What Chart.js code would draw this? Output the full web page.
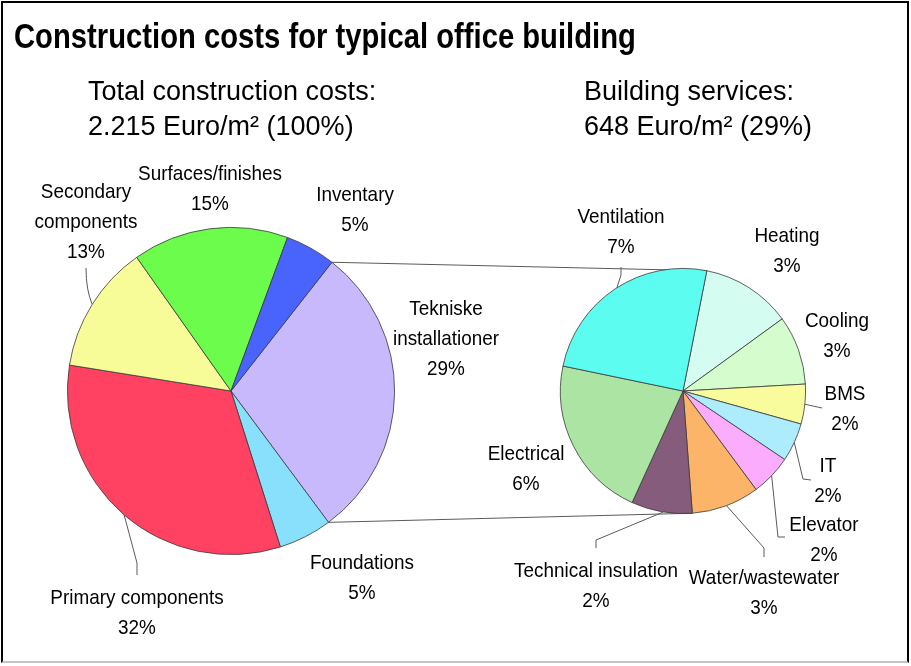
<!DOCTYPE html>
<html>
<head>
<meta charset="utf-8">
<script src="https://cdn.jsdelivr.net/npm/chart.js@4.4.1/dist/chart.umd.min.js"></script>
<style>
  html, body { margin: 0; padding: 0; background: #fff; }
  #wrap { position: relative; width: 911px; height: 666px; overflow: hidden; }
  #frame { position: absolute; left: 1px; top: 1px; width: 904px; height: 658px;
           border: 2px solid #000; border-bottom-color: #c4c4c4; }
  canvas { position: absolute; left: 0; top: 0; }
</style>
</head>
<body>
<div id="wrap">
  <div id="frame"></div>
  <canvas id="totalChart" width="911" height="666"></canvas>
  <canvas id="servicesChart" width="911" height="666"></canvas>
</div>
<script>
// Total construction costs, Euro/m2 (2.215 in total)
const totalLabels = ['Tekniske installationer', 'Foundations', 'Primary components', 'Secondary components', 'Surfaces/finishes', 'Inventary'];
const totalValues = [648, 117, 718, 281, 341, 110];
const totalPct = ['29%', '5%', '32%', '13%', '15%', '5%'];

// Building services, Euro/m2 (648 in total)
const servicesLabels = ['Heating', 'Cooling', 'BMS', 'IT', 'Elevator', 'Water/wastewater', 'Technical insulation', 'Electrical', 'Ventilation'];
const servicesValues = [77, 59, 34, 33, 35, 58, 52, 139, 161];
const servicesPct = ['3%', '3%', '2%', '2%', '2%', '3%', '2%', '6%', '7%'];

const totalColors = ['#c8b9fc', '#88e0fc', '#ff4262', '#f8fc98', '#6cfc4c', '#4864fc'];
const servicesColors = ['#d4fcf0', '#d4fccc', '#f8fc9c', '#acecfc', '#fcacfc', '#fcb468', '#865c7c', '#ace4a4', '#5cfcf0'];

const FONT = '"Liberation Sans", Arial, Helvetica, sans-serif';
const LINE = '#5a5a5a';

// label placement: [centerX, centerY of first line, lines]
const totalLabelPos = [
  [446, 307, ['Tekniske', 'installationer']],
  [362, 561, null],
  [137, 596, null],
  [86, 190, ['Secondary', 'components']],
  [210, 172, null],
  [355, 193, null]
];
const servicesLabelPos = [
  [787, 234], [837, 319], [845, 392], [828, 464], [824, 523],
  [764, 576], [596, 569], [526, 452], [621, 215]
];

// leader lines: slice index, position inside slice (0..1), further points
const totalLeaders = [
  { i: 3, t: 0.5, curve: [86, 290], pts: [[86, 268]] },
  { i: 2, t: 0.5, pts: [[137, 563], [137, 575]] }
];
const servicesLeaders = [
  { i: 8, t: 0.51, pts: [[621, 275], [621, 267]] },
  { i: 2, t: 0.5, pts: [[822, 408]] },
  { i: 3, t: 0.5, pts: [[803, 479], [811, 480]] },
  { i: 4, t: 0.5, pts: [[778, 537], [785, 537]] },
  { i: 5, t: 0.49, pts: [[764, 548], [764, 557]] },
  { i: 6, t: 0.47, pts: [[596, 540], [596, 548]] }
];

function drawText(ctx, str, x, y, size, scaleX, align, bold) {
  ctx.save();
  ctx.font = (bold ? 'bold ' : '') + size + 'px ' + FONT;
  ctx.fillStyle = '#000';
  ctx.textAlign = align;
  ctx.textBaseline = 'alphabetic';
  ctx.translate(x, y);
  ctx.scale(scaleX, 1);
  ctx.fillText(str, 0, 0);
  ctx.restore();
}

function edgePoint(chart, i, t) {
  const arc = chart.getDatasetMeta(0).data[i];
  const a = arc.startAngle + t * (arc.endAngle - arc.startAngle);
  return [arc.x + arc.outerRadius * Math.cos(a), arc.y + arc.outerRadius * Math.sin(a)];
}

function drawLeaders(chart, leaders) {
  const ctx = chart.ctx;
  ctx.save();
  ctx.strokeStyle = LINE;
  ctx.lineWidth = 1;
  leaders.forEach(l => {
    const p = edgePoint(chart, l.i, l.t);
    ctx.beginPath();
    ctx.moveTo(p[0], p[1]);
    l.pts.forEach((q, k) => {
      if (k === 0 && l.curve) ctx.quadraticCurveTo(l.curve[0], l.curve[1], q[0], q[1]);
      else ctx.lineTo(q[0], q[1]);
    });
    ctx.stroke();
  });
  ctx.restore();
}

function drawLabels(chart, labels, pct, pos) {
  const ctx = chart.ctx;
  pos.forEach((p, i) => {
    const lines = (p[2] || [labels[i]]).concat([pct[i]]);
    lines.forEach((s, k) => drawText(ctx, s, p[0], p[1] + 7.5 + k * 30, 21, 0.9, 'center', false));
  });
}

function pieOptions(rotation, padding) {
  return {
    responsive: false,
    devicePixelRatio: 1,
    animation: false,
    events: [],
    rotation: rotation,
    layout: { padding: padding },
    plugins: { legend: { display: false }, tooltip: { enabled: false }, title: { display: false } }
  };
}

const servicesChart = new Chart(document.getElementById('servicesChart'), {
  type: 'pie',
  data: {
    labels: servicesLabels,
    datasets: [{ data: servicesValues, backgroundColor: servicesColors, borderColor: '#3a3a3a', borderWidth: 0.8 }]
  },
  options: pieOptions(11.2, { left: 560, right: 105, top: 268, bottom: 152 }),
  plugins: [{
    id: 'servicesText',
    afterDraw(chart) {
      drawLeaders(chart, servicesLeaders);
      drawLabels(chart, servicesLabels, servicesPct, servicesLabelPos);
    }
  }]
});

const totalChart = new Chart(document.getElementById('totalChart'), {
  type: 'pie',
  data: {
    labels: totalLabels,
    datasets: [{ data: totalValues, backgroundColor: totalColors, borderColor: '#3a3a3a', borderWidth: 0.8 }]
  },
  options: pieOptions(38.1, { left: 67, right: 516, top: 227, bottom: 111 }),
  plugins: [{
    id: 'zoomLines',
    beforeDatasetsDraw(chart) {
      // lines joining the services slice to the breakdown pie
      const ctx = chart.ctx;
      const a = edgePoint(chart, 0, 0), b = edgePoint(chart, 0, 1);
      const c = edgePoint(servicesChart, 0, 0), d = edgePoint(servicesChart, 6, 0);
      ctx.save();
      ctx.strokeStyle = LINE;
      ctx.lineWidth = 1;
      ctx.beginPath();
      ctx.moveTo(a[0], a[1]); ctx.lineTo(c[0], c[1]);
      ctx.moveTo(b[0], b[1]); ctx.lineTo(d[0], d[1]);
      ctx.stroke();
      ctx.restore();
    },
    afterDraw(chart) {
      const ctx = chart.ctx;
      drawText(ctx, 'Construction costs for typical office building', 14, 48, 35, 0.835, 'left', true);
      drawText(ctx, 'Total construction costs:', 88, 100, 27, 1, 'left', false);
      drawText(ctx, '2.215 Euro/m\u00b2 (100%)', 88, 135, 27, 1, 'left', false);
      drawText(ctx, 'Building services:', 584, 100, 27, 1, 'left', false);
      drawText(ctx, '648 Euro/m\u00b2 (29%)', 584, 135, 27, 1, 'left', false);
      drawLeaders(chart, totalLeaders);
      drawLabels(chart, totalLabels, totalPct, totalLabelPos);
    }
  }]
});
</script>
</body>
</html>
